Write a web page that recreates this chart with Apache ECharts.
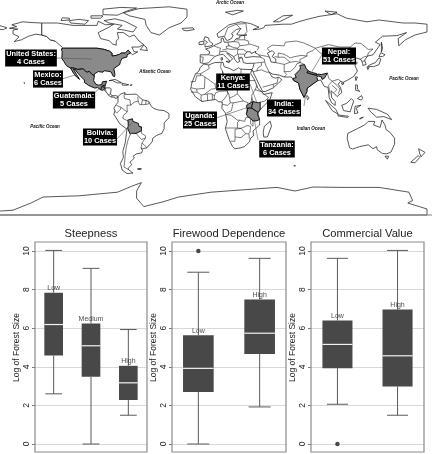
<!DOCTYPE html>
<html><head><meta charset="utf-8">
<style>html,body{margin:0;padding:0;background:#fff}#c{width:432px;height:454px}</style>
<script src="https://cdn.jsdelivr.net/npm/echarts@6/dist/echarts.min.js"></script>
</head><body><div id="c"></div>
<script>
// ---------- box plot data: [min, Q1, median, Q3, max]
const steepCats = ['Low','Medium','High'];
const steepVals = [[2.6,4.58,6.19,7.84,10.03],[0,3.48,5.09,6.25,9.1],[1.49,2.28,3.17,4.05,5.93]];
const steepOut = [];
const fireCats = ['Low','High'];
const fireVals = [[0,2.7,3.92,5.64,8.9],[1.92,4.66,5.74,7.49,9.62]];
const fireOut = [[1,10]];
const commCats = ['Low','High'];
const commVals = [[2.06,3.93,5.16,6.4,9.62],[1.49,2.98,4.57,6.97,10.03]];
const commOut = [[1,0]];
const panelTitles = ['Steepness','Firewood Dependence','Commercial Value'];
const yName = 'Log of Forest Size';

// ---------- case-study labels
const caseLabels = ['United States:\n4 Cases','Mexico:\n6 Cases','Guatemala:\n5 Cases','Bolivia:\n10 Cases','Uganda:\n25 Cases','Kenya:\n11 Cases','India:\n34 Cases','Tanzania:\n6 Cases','Nepal:\n51 Cases'];
const oceanLabels = ['Arctic Ocean','Atlantic Ocean','Pacific Ocean','Pacific Ocean','Indian Ocean'];

// ---------- geography, [lon, lat]
const usa=[[-124.7,48.4],[-123,49],[-95,49],[-89,48],[-84.5,46.5],[-82.5,45],[-82.5,42.5],[-79,43],[-76,44],[-75,45],[-71.5,45],[-69,47.3],[-67,45],[-70,43.5],[-70,41.7],[-74,40.5],[-75.5,38],[-76,35.5],[-81,32],[-80,27],[-80.5,25.2],[-81.8,26],[-83,29],[-85,29.7],[-89,30.2],[-90,29],[-94,29.5],[-97.3,27.5],[-97.2,26],[-99.5,27.5],[-101.5,29.8],[-103,29],[-104.5,29.6],[-106.5,31.8],[-111,31.3],[-114.8,32.5],[-117.1,32.5],[-120.5,34.5],[-122.5,37.8],[-124.3,40.3],[-124,46],[-124.7,48.4]];
const alaska=[[-141,70],[-141,60],[-137,58.8],[-134,56],[-130,55],[-133,57.5],[-138,59.5],[-146,60.7],[-152,59],[-158,56],[-164,54.5],[-160,58.5],[-165,61],[-165,64],[-161,65],[-168,65.6],[-162,67],[-166,68.5],[-157,71],[-150,70.4],[-141,70]];
const canada=[[-141,70],[-128,70],[-115,68],[-108,68],[-95,68],[-94,71.5],[-88,68.5],[-81,69],[-86,66],[-94,62],[-92,57],[-85,55.3],[-82,52.5],[-79,51.5],[-79,55],[-77,57],[-78,62],[-73,62],[-68,58.5],[-64,60],[-60,55],[-56,52],[-60,50],[-66,50],[-65,48],[-64,46],[-61,46],[-65.5,43.5],[-67,45],[-69,47.3],[-71.5,45],[-75,45],[-76,44],[-79,43],[-82.5,42.5],[-82.5,45],[-84.5,46.5],[-89,48],[-95,49],[-123,49],[-130,55],[-134,56],[-137,58.8],[-141,60],[-141,70]];
const mexico=[[-117.1,32.5],[-114.8,32.5],[-111,31.3],[-106.5,31.8],[-104.5,29.6],[-103,29],[-101.5,29.8],[-99.5,27.5],[-97.2,26],[-97.8,22],[-96,19],[-94,18.2],[-91,18.7],[-90.5,21],[-87,21.5],[-88,18.3],[-89.2,17.8],[-91,17.2],[-91,16],[-92.2,14.5],[-94.5,16.2],[-97,15.8],[-102,18],[-105.5,20.5],[-105.5,22.5],[-109,26],[-112.5,30],[-113,31.2],[-114.7,31.5],[-112,27],[-109.5,23],[-112,25],[-114.5,28],[-117.1,32.5]];
const guatemala=[[-92.2,14.5],[-91,16],[-91,17.2],[-89.2,17.8],[-89.2,15.8],[-88.3,15.7],[-89.3,14.4],[-90.5,13.9],[-92.2,14.5]];
const centralAm=[[-89.2,17.8],[-88,18.3],[-88.3,15.9],[-84,15.9],[-83.2,15],[-83.7,11],[-82.5,9.3],[-79.5,9.5],[-77.3,8.7],[-78,7.5],[-80,7.3],[-80.5,8.2],[-83,8.2],[-85.7,10],[-87.5,13],[-89.3,14.4],[-88.3,15.7],[-89.2,15.8],[-89.2,17.8]];
const southAm=[[-77.3,8.7],[-75.5,10.7],[-72,12],[-71.5,10.5],[-68,10.5],[-62,10.7],[-60,8.5],[-57,6],[-52,4.8],[-50,1],[-48,-1],[-44,-2.5],[-39,-3],[-35,-5.5],[-35,-9],[-39,-13],[-39,-18],[-41,-22],[-45,-23.5],[-48.5,-26],[-49,-29],[-53.5,-34],[-57,-34.8],[-58.3,-34],[-57,-36.5],[-58,-38.3],[-62,-39],[-65,-41],[-63.8,-42.5],[-67.5,-46],[-66,-48],[-69,-51],[-68.5,-52.5],[-65,-55],[-70,-55.5],[-74,-52.5],[-75.5,-47],[-73,-42],[-73.5,-37],[-71.5,-30],[-70,-18.5],[-76,-14],[-81,-6],[-80,-3],[-81,-1],[-79,2],[-77.5,4],[-77.5,7],[-77.3,8.7]];
const bolivia=[[-69.5,-11],[-65.5,-9.8],[-65,-12],[-60.5,-13.7],[-60,-16.3],[-58,-16.5],[-58,-19.8],[-62.5,-22],[-66.3,-21.9],[-67.2,-22.8],[-68.5,-20],[-69.5,-17.5],[-69,-16],[-69,-12.5],[-69.5,-11]];
const africa=[[-6,35.8],[-2,35],[3,37],[10,37.3],[11,33.5],[15,32.3],[19,30.3],[23,32.7],[25,31.5],[32,31.2],[34.2,31.3],[33,28],[35.5,24],[37,21],[39,15.5],[43,12],[44,10.5],[51,12],[49,6],[42,-1],[39,-5],[40.5,-11],[40.5,-15],[35,-20],[35.5,-24],[33,-26],[32,-29],[28,-33],[25,-34],[20,-34.8],[18,-33],[15,-27],[12,-18],[13.5,-12],[12,-5],[9,-1],[9.5,4],[6,4.5],[4,6.3],[-4,5.2],[-7.5,4.5],[-13,8.5],[-17,14.7],[-16,20],[-13,27.5],[-10,30],[-9,33],[-6,35.8]];
const uganda=[[30,-1],[29.6,1],[31,2.3],[33.5,3.8],[35,4.5],[34,0.5],[33.9,-1],[30,-1]];
const kenya=[[33.9,-1],[34,0.5],[35,4.5],[39.5,3.5],[41,4],[41,-1.7],[39.2,-4.7],[37.7,-3.5],[33.9,-1]];
const tanzania=[[33.9,-1],[37.7,-3.5],[39.2,-4.7],[38.8,-6.5],[39.5,-8],[40.5,-10.5],[37.5,-11.6],[34.9,-11.6],[33,-9.5],[31,-8.5],[29.5,-6],[30.5,-2.5],[30,-1],[33.9,-1]];
const eurasia=[[-9,37],[-6,36.2],[-2,36.8],[0,39],[3,42],[6,43.2],[10,44],[12.5,41.5],[16,38],[18,40.2],[13,45],[14,45],[19,42],[19.5,40],[22,37],[24,38],[23,40.5],[26,41],[26.5,39],[27,37],[30,36.3],[36,36.5],[35,33],[34.2,31.3],[34.9,29.5],[39,21],[43,13],[45,12.8],[52,16],[59,22.5],[56.5,25],[54,24],[51,25],[48,29.5],[51,27.5],[57,26.5],[61,25],[67,25],[69,22],[73,20],[74,15],[77.5,8],[80,13],[80,15.5],[86,20],[89,22],[91.5,22.5],[94.5,17],[97.5,16.5],[98.5,8],[100.5,3.5],[103.5,1.3],[103.5,4.5],[100.5,8],[100,13.5],[103,11],[105,8.7],[109,12],[108,16],[106,19],[108,21.5],[110,20.5],[114,22.5],[119,25.5],[122,30],[120,34.5],[122,37],[118,39],[121.5,40.8],[125,39.5],[126.5,36],[126.5,34.5],[129.3,35.5],[128,39],[130.5,42.5],[135,43.5],[141,52],[137,54],[143,59],[155,59.5],[163,62],[156,57],[156.5,51],[162,56],[170,60],[180,62.5],[180,69],[170,70],[160,70],[140,72.5],[130,71],[113,74],[105,77.7],[90,75.5],[80,73],[73,71],[67,69],[60,69],[45,68],[44,66],[40,64.8],[35,64.5],[40,66.5],[33,69.5],[25,71],[15,68.5],[5,61],[6,58],[11,59],[12.5,56],[14,55.5],[17,57],[18.5,60],[17,61],[21,64.5],[25,65.5],[21.5,60.5],[23,60],[30,60],[24,59.3],[24,57.5],[21,57],[19,54.5],[14,54],[11,54],[10,57.5],[8.5,57],[8.5,54],[4,52],[1.5,50.5],[-2,49],[-4.5,48.4],[-1,46],[-2,43.5],[-9,43.5],[-9,37]];
const blackSea=[[28,42],[29,41.2],[35,42],[41.5,41.6],[39,44],[37,45],[37.5,46.5],[33.5,44.5],[33,46],[30,46],[28,43.5],[28,42]];
const caspian=[[47,45],[51,47],[53,45],[51,42],[54,40],[54,37],[50,37.5],[49,41],[47,45]];
const india=[[68.2,23.7],[71,24.5],[70,27],[74,31],[74.5,33],[74,34.7],[78,35.3],[79,32.5],[81,30.2],[80,28.7],[84,27.4],[88,26.4],[89,27.5],[92,27],[97,28.3],[94.5,24],[92.5,23],[92,25],[89,26],[88.2,24.5],[89,22],[86,20],[80,15.5],[80,13],[77.5,8],[74,15],[73,20],[69,22],[68.2,23.7]];
const nepal=[[80,28.7],[81,30.2],[84,28.7],[88,27.9],[88,26.4],[84,27.4],[80,28.7]];
const antarctica=[[-180,-87],[-165,-86],[-150,-80],[-140,-75],[-110,-74],[-78,-71],[-66,-66],[-58,-63],[-62,-70],[-62,-76],[-56,-83],[-40,-79],[-27,-75],[0,-71],[27,-69],[55,-67],[70,-70],[85,-66.7],[110,-67],[140,-67],[165,-71],[168,-78],[164,-80],[180,-85],[180,-90],[-180,-90],[-180,-87]];
const islands=[
[[-180,69],[-170,66],[-173,64.5],[-180,65],[-180,69]],
[[-80,73.5],[-72,71.5],[-62,66.5],[-65,62.5],[-72,64],[-78,65],[-74,68],[-85,70],[-89,72],[-80,73.5]],
[[-117,70],[-105,69],[-102,72],[-110,73],[-118,72],[-117,70]],
[[-90,77],[-78,76.5],[-70,80],[-62,82.5],[-75,83],[-90,81.5],[-90,77]],
[[-125,72],[-118,72.5],[-118,74],[-124,74.3],[-125,72]],
[[-100,74],[-92,74],[-90,76],[-100,76],[-100,74]],
[[-59,47.8],[-53,47],[-54,50],[-56,51.5],[-59,47.8]],
[[-73,78.5],[-60,82],[-35,83.5],[-20,81.5],[-20,75],[-25,70],[-35,66],[-43,60],[-50,62],[-54,68],[-55,73],[-68,76],[-73,78.5]],
[[-24,65.5],[-15,66],[-14,64.5],[-20,63.5],[-23,64],[-24,65.5]],
[[-85,22],[-80,23],[-74.5,20.2],[-78,20],[-82,22],[-85,22]],
[[-74,19.8],[-68.5,18.5],[-71,18],[-74,18.3],[-74,19.8]],
[[-67.2,18.4],[-65.7,18.4],[-65.8,18],[-67.2,18],[-67.2,18.4]],
[[-61,-51.2],[-58,-51.3],[-58.5,-52.2],[-61,-52],[-61,-51.2]],
[[-156,20.2],[-155,19.8],[-155.6,19],[-156,20.2]],
[[-5,50],[1,51.2],[1.5,52.8],[-1.5,55],[-2,57.5],[-5,58.6],[-6,56],[-3,54],[-5,52],[-5,50]],
[[-10,52],[-6,52.3],[-6,55],[-10,54],[-10,52]],
[[12.5,38],[15.5,38.2],[15,36.8],[12.5,38]],
[[8.3,41],[9.7,41],[9.5,39.2],[8.5,39],[8.3,41]],
[[130.9,33.9],[135.5,33.6],[140,35.3],[141.5,40],[140,41],[137,37],[132,35],[130.9,33.9]],
[[140,42],[141.5,45.4],[145,43.5],[143,42],[140,42]],
[[130,33.5],[131.8,33],[130.7,31.2],[130,33.5]],
[[142,54],[143,49],[142,46],[142,50],[142,54]],
[[120.2,25],[122,25],[120.8,22],[120.2,25]],
[[108.7,20],[110.8,20],[109.6,18.3],[108.7,20]],
[[80,9.7],[81.8,7.5],[80.5,6],[79.8,8],[80,9.7]],
[[120.5,18.5],[122,18.3],[122,15],[124,13],[120.5,14],[120.5,18.5]],
[[122,7],[125.5,9.5],[126.5,7],[125,5.8],[122,7]],
[[109,1.5],[113,3],[117,7],[119,5],[117.5,1],[116,-4],[110.5,-3],[109,1.5]],
[[95.5,5.5],[104,-2],[106,-6],[101,-3],[95.5,5.5]],
[[105.5,-6.5],[114.5,-7.7],[114,-8.7],[106,-7.5],[105.5,-6.5]],
[[119.5,-5.5],[120,0.5],[125,1.5],[121,-1],[122.5,-5],[119.5,-5.5]],
[[131,-1],[138,-2],[147,-6],[150.5,-10.5],[144,-8],[138,-8.5],[133,-4],[131,-1]],
[[124,-9.5],[127,-8.4],[124,-10.2],[124,-9.5]],
[[114,-22],[113.5,-26],[115.5,-34],[118,-35],[124,-33],[131,-31.5],[135,-34.8],[138,-33],[138.5,-35.7],[143,-38.8],[146.5,-39],[150,-37.5],[153,-31],[153,-26],[149,-21],[146,-19],[145,-15],[142.5,-10.8],[141,-17],[135.5,-15],[136.5,-12],[131,-12],[128,-15],[122,-18],[114,-22]],
[[145,-41],[148,-41],[147,-43.5],[145,-41]],
[[173,-34.8],[178.3,-37.8],[175,-41.5],[174,-39],[173,-34.8]],
[[172.7,-40.5],[174,-42],[170,-46.5],[166.5,-46],[171,-42],[172.7,-40.5]],
[[49.3,-12],[50.4,-16],[47,-25],[44,-25],[43.5,-21],[44.5,-16],[49.3,-12]],
[[52,71],[57,71],[68,76.5],[60,76],[52,71]],
[[12,79],[22,80.5],[27,80],[18,76.8],[12,79]],
[[95,80],[105,79],[100,77],[95,80]],
[[69,-49],[70.5,-49],[70,-49.8],[69,-49]]
];
const borders=[
// South America
[[-71.5,12],[-72.5,9.5],[-72,7],[-67.5,6],[-67,1.5]],[[-67,1.5],[-70,1.5],[-69.8,-4.2]],[[-69.8,-4.2],[-75,-0.2],[-78.8,1.4]],[[-75,-0.2],[-75.5,-2],[-78.5,-5],[-80.3,-3.4]],[[-69.8,-4.2],[-73,-7],[-73.5,-9.5],[-70.5,-11],[-69.5,-11]],[[-69.5,-17.5],[-70.4,-18.3]],[[-67,1.5],[-64,4],[-60.7,5],[-61,8.5]],[[-60.7,5],[-59.5,2],[-56,2],[-52,2.5],[-51.7,4]],[[-57,6],[-58,2]],[[-54,5.8],[-54.5,2.3]],[[-67.2,-22.8],[-69,-27],[-70.5,-33],[-71.5,-40],[-72,-46],[-72.5,-50],[-69,-52]],[[-62.5,-22],[-58,-27],[-54.7,-26]],[[-58,-19.8],[-57.8,-22],[-54.5,-24],[-54.7,-26]],[[-54.7,-26],[-57.5,-30]],[[-57.5,-30],[-58.3,-34]],[[-57.5,-30],[-53.5,-33.7]],
// Central America
[[-88.3,15.9],[-87.5,13]],[[-85.7,10],[-83.7,11]],[[-83,8.2],[-82.5,9.3]],
// Africa
[[-2,35],[-1.5,32],[-8.7,27.7]],[[-13,27.7],[-8.7,27.7],[-8.7,26],[-12,26],[-13,21.3],[-17,21]],[[-8.7,27],[-5,25],[3.3,19],[4,15.3],[0.3,14.9]],[[3.3,19],[12,23.5],[9.5,30],[8,33],[8.5,37]],[[9.5,30],[10,25],[12,23.5]],[[25,31.5],[25,20]],[[12,23.5],[15,23],[24,19.5],[25,20]],[[25,22],[36.8,22]],[[15,23],[15.5,16],[13.5,13.5],[15,10],[15.5,7.5],[19,9],[22,11],[22,15.5],[24,19.5]],[[13.5,13.5],[7,13],[3.7,11.7],[2.8,9],[2.7,6.3]],[[13.5,13.5],[14,11],[11,6.5],[8.7,4.5]],[[0.3,14.9],[-5.5,10.5],[-8,10],[-8.5,7.5],[-7.5,4.5]],[[-5,25],[-5.5,15.5],[-12,15],[-16.5,16]],[[-12,15],[-11.5,12.3],[-16.7,12.4]],[[-11.5,12.3],[-8,10]],[[-5.5,10.5],[-3,10.7],[-2.8,5]],[[-3,11],[1,11],[1.2,6]],[[1,11],[2.8,9]],[[38.5,18],[36.5,14],[34,10],[34,8],[33.5,3.8]],[[22,11],[27,5],[31,3.5]],[[36.5,14.5],[43,12.5]],[[43,11.5],[48,8],[45,5],[41,4]],[[34,8],[35,4.5]],[[15.5,7.5],[16,3.5],[18.5,3.5],[27,5]],[[16,3.5],[14,1.3],[9.5,2.3]],[[18.5,3.5],[17,-3],[13,-5]],[[12,-6],[17,-7],[22,-11],[24,-11],[28,-12],[29,-9],[31,-8.5]],[[29.5,-6],[30,-1]],[[29.6,1],[31,3.5]],[[24,-11],[22,-13],[22,-17.5],[12,-17.5]],[[22,-17.5],[25,-17.8],[20,-18.5],[20,-28.5],[16.5,-28.5]],[[20,-25],[25,-25.5],[29,-22.3],[31.5,-22.3],[32,-26.5]],[[25,-17.8],[29,-22.3]],[[25,-17.8],[30,-15.5],[33,-16],[32.5,-21],[31.5,-22.3]],[[34.9,-11.6],[35,-16],[33,-14],[33,-9.5]],
// Europe
[[28,60.5],[30,63],[29,69.5]],[[24,66],[21,69],[29,69.5]],[[21,69],[14,66],[12,61],[11.5,59]],[[28,59.5],[28,56],[31,55],[31.5,52.5],[34,52],[40,50],[38.5,47.2]],[[-1.7,43.4],[3,42.5]],[[2.5,51],[6,49.5],[8,49],[7.5,47.5],[7,44]],[[14,54],[15,51],[12.5,50.3],[13.5,48.5],[9.5,47.5]],[[14.5,52],[15,51]],[[19,54.5],[23,54],[24,51],[22.5,49],[19,49.5],[15,51]],[[21,56],[28,56]],[[-8.8,42],[-6.5,41.5],[-7,37.2]],[[7.5,46],[13,46.5],[13.7,45.7]],[[13.5,48.5],[17,48],[22.5,48.5],[22,44],[19,42]],[[22.5,48],[27,48],[30,45.5]],[[22.5,44],[28,44]],[[22.5,44],[23,41.3],[26,41.5]],[[24,51],[31.5,52]],
// Asia
[[49,46],[47,49],[51,51.5],[61,51],[62,54],[71,55],[77,53.5],[87,49]],[[53,42],[56,41.5],[56,45],[61,44],[66,41],[70,42],[75,43],[80,42.5],[80,45],[85,47],[87,49]],[[87,49],[98,52],[107,50],[116,50]],[[87,49],[91,45],[96,42.7],[105,41.7],[112,45],[116,47],[116,50]],[[116,50],[120,53.3],[125,53],[131,48],[135,48.3],[131,45],[130.5,42.5]],[[80,42.5],[74,39.5],[74.5,37],[78,35.3]],[[97,28.3],[98,24],[101,21.5],[106,23],[108,21.5]],[[124.5,40],[128,42],[130.5,42.5]],[[126,38],[128.5,38.5]],[[101,21.5],[98,18],[98.5,15],[99,11]],[[101,21.5],[105,18],[107.5,15],[106,11]],[[101,18],[105,14.5],[102.5,12]],[[61,25],[63,27],[61,29.5],[61,35.5],[66,37.3],[71,38],[74.5,37]],[[61,29.5],[66,29.5],[70,33],[71.5,36],[74.5,37]],[[54,37],[61,35.5]],[[56,41.5],[61,41.5],[66,37.3]],[[48,30],[46,34],[44.7,37.5],[36,36.5]],[[41.5,41.6],[44.7,39.5],[44.7,37.5]],[[35,29.5],[38,30],[42,31],[46.5,29],[48,29]],[[43,16.5],[52,19],[55,20],[56,24.5]],[[52,16.5],[52,19]],[[38,30],[39,32.5],[42,34.5],[42,37]],[[39.8,43.5],[47.5,42],[49,41]]
];
const highlighted={'United States':usa,'Mexico':mexico,'Guatemala':guatemala,'Bolivia':bolivia,'Uganda':uganda,'Kenya':kenya,'Tanzania':tanzania,'India':india,'Nepal':nepal};
const background={'Alaska':alaska,'Canada':canada,'Central America':centralAm,'South America':southAm,'Africa':africa,'Eurasia':eurasia,'Black Sea':blackSea,'Caspian':caspian,'Antarctica':antarctica};

// ---------- build
const feat=(name,rings)=>({type:'Feature',properties:{name},geometry:{type:'Polygon',coordinates:rings}});
const features=[];
Object.keys(background).forEach(k=>features.push(feat(k,[background[k]])));
islands.forEach((r,i)=>features.push(feat('island'+i,[r])));
Object.keys(highlighted).forEach(k=>features.push(feat(k,[highlighted[k]])));
echarts.registerMap('world',{type:'FeatureCollection',features});

const chart=echarts.init(document.getElementById('c'),null,{renderer:'canvas'});
const FONT='"Liberation Sans",Arial,sans-serif';
const panels=[
 {cats:steepCats,vals:steepVals,out:steepOut,l:35,r:147,xmin:0.5,xmax:3.5,bw:0.5,cap:0.45,nameGap:14},
 {cats:fireCats,vals:fireVals,out:fireOut,l:172,r:286,xmin:0.57,xmax:2.43,bw:0.5,cap:0.36,nameGap:14},
 {cats:commCats,vals:commVals,out:commOut,l:311,r:424,xmin:0.56,xmax:2.44,bw:0.5,cap:0.35,nameGap:14}
];
const TOP=251,BOT=444,W=432;
const grids=[],xAxes=[],yAxes=[],series=[],graphics=[];
panels.forEach((p,i)=>{
 grids.push({left:p.l,width:p.r-p.l,top:TOP,height:BOT-TOP});
 xAxes.push({gridIndex:i,type:'value',min:p.xmin,max:p.xmax,show:false});
 yAxes.push({gridIndex:i,type:'value',min:0,max:10,interval:2,name:yName,nameLocation:'middle',nameGap:p.nameGap,
   nameTextStyle:{fontFamily:FONT,fontSize:8.5,color:'#222'},
   axisLine:{show:false},axisTick:{show:true,length:3,lineStyle:{color:'#777',width:1}},
   axisLabel:{rotate:90,fontFamily:FONT,fontSize:8.5,color:'#222',margin:4,align:'center',verticalAlign:'bottom'},
   splitLine:{show:true,lineStyle:{color:'#d8d8d8',width:1}}});
 const rows=p.vals.map((v,k)=>[k+1].concat(v));
 series.push({type:'custom',xAxisIndex:i,yAxisIndex:i,data:rows,z:3,clip:false,silent:true,
   encode:{x:0,y:[1,2,3,4,5]},
   renderItem:(params,api)=>{
     const x=api.value(0);
     const pt=(dx,j)=>api.coord([x+dx,api.value(j)]);
     const seg=(a,b,c,w)=>({type:'line',shape:{x1:a[0],y1:a[1],x2:b[0],y2:b[1]},style:{stroke:c,lineWidth:w}});
     const g='#5a5a5a',d='#484848';
     const tl=pt(-p.bw/2,4),br=pt(p.bw/2,2);
     return {type:'group',children:[
       seg(pt(0,1),pt(0,2),g,1),seg(pt(0,4),pt(0,5),g,1),
       seg(pt(-p.cap/2,1),pt(p.cap/2,1),g,1),seg(pt(-p.cap/2,5),pt(p.cap/2,5),g,1),
       {type:'rect',shape:{x:tl[0],y:tl[1],width:br[0]-tl[0],height:br[1]-tl[1]},style:{fill:d}},
       seg(pt(-p.bw/2,3),pt(p.bw/2,3),'#f2f2f2',1.2)
     ]};
   }});
 series.push({type:'scatter',xAxisIndex:i,yAxisIndex:i,data:p.out,symbolSize:4.5,itemStyle:{color:'#484848',opacity:1},silent:true,z:4});
 series.push({type:'scatter',xAxisIndex:i,yAxisIndex:i,silent:true,z:5,symbolSize:0,
   data:p.vals.map((v,k)=>({value:[k+1,v[3]],label:{formatter:p.cats[k]}})),
   label:{show:true,position:'top',distance:1,fontFamily:FONT,fontSize:7,color:'#222'}});
 graphics.push({type:'rect',silent:true,z:10,shape:{x:p.l,y:242,width:p.r-p.l,height:210},style:{fill:'none',stroke:'#8c8c8c',lineWidth:1.2}});
 graphics.push({type:'text',silent:true,z:10,x:(p.l+p.r)/2,y:234,style:{text:panelTitles[i],font:'11.2px '+FONT,fill:'#222',textAlign:'center',textVerticalAlign:'middle'}});
});
// separator below the map
graphics.push({type:'line',silent:true,z:10,shape:{x1:0,y1:215,x2:W,y2:215},style:{stroke:'#808080',lineWidth:1}});
// leader lines and labels
const leaders=[[56,58,92,59],[62,79,75,75],[90,97,101,87],[116,140,132,123],[216,118,249,107],[250,84,257,103],[304,106,306,92],[258,140,254,118],[323,53,311,73]];
leaders.forEach(s=>graphics.push({type:'line',silent:true,z:11,shape:{x1:s[0],y1:s[1],x2:s[2],y2:s[3]},style:{stroke:'#555',lineWidth:0.6}}));
const boxCenters=[[31,58],[48,79],[74,100],[100,137],[200,120],[233,82],[284,108],[277,149],[339,56]];
caseLabels.forEach((t,i)=>graphics.push({type:'text',silent:true,z:12,x:boxCenters[i][0],y:boxCenters[i][1],style:{text:t,font:'bold 7.4px '+FONT,lineHeight:8.6,fill:'#fff',backgroundColor:'#000',padding:[0,1,0,1],align:'center',verticalAlign:'middle',textAlign:'center',textVerticalAlign:'middle'}}));
const oceanPos=[[230,3],[155,72],[45,127],[404,79],[311,129]];
oceanLabels.forEach((t,i)=>graphics.push({type:'text',silent:true,z:12,x:oceanPos[i][0],y:oceanPos[i][1],style:{text:t,font:'italic bold 4.5px '+FONT,fill:'#111',textAlign:'center',textVerticalAlign:'middle'}}));
// internal borders, through the map's own projection
series.push({type:'lines',coordinateSystem:'geo',geoIndex:0,polyline:true,silent:true,z:2,
  data:borders.map(c=>({coords:c})),lineStyle:{color:'#222',width:0.6,opacity:1}});

chart.setOption({
 animation:false,backgroundColor:'#fff',
 geo:{map:'world',roam:false,silent:true,aspectScale:1,boundingCoords:[[-180,90],[180,-90]],left:-5,top:-1,width:W,height:W/2,z:1,
   label:{show:false},itemStyle:{areaColor:'#fff',borderColor:'#111',borderWidth:0.7},
   emphasis:{disabled:true},select:{disabled:true},
   regions:Object.keys(highlighted).map(name=>({name,itemStyle:{areaColor:'#8a8a8a',borderColor:'#111',borderWidth:1}}))},
 grid:grids,xAxis:xAxes,yAxis:yAxes,series,graphic:graphics
});
</script></body></html>
